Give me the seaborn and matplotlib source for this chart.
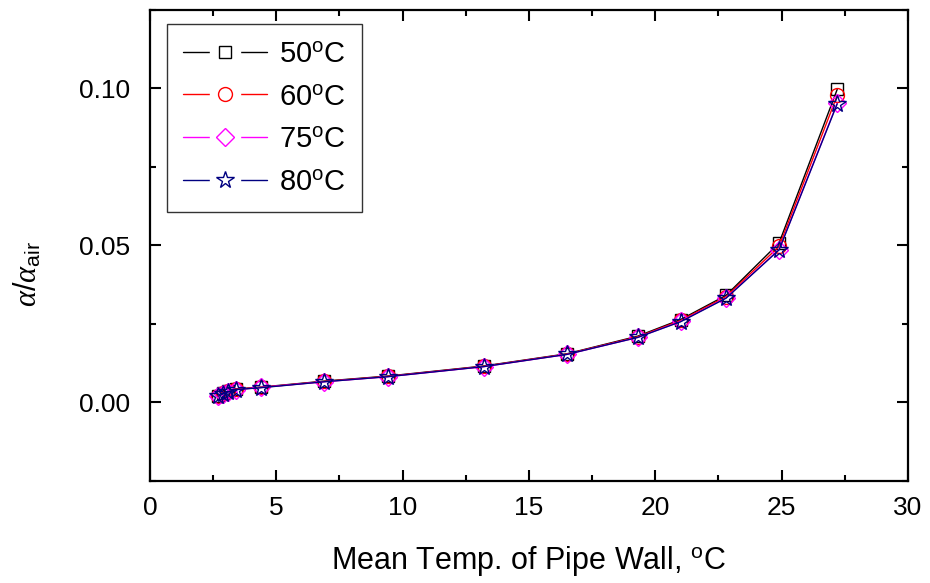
import matplotlib
matplotlib.use("Agg")
import matplotlib.pyplot as plt
import seaborn as sns
import pandas as pd
from matplotlib.ticker import MultipleLocator, FormatStrFormatter
from matplotlib.lines import Line2D

# Data
x_temp = [2.7, 2.9, 3.1, 3.4, 4.4, 6.9, 9.4, 13.2, 16.5, 19.3, 21.0, 22.8, 24.9, 27.2]
y_50 = [0.0022, 0.0030, 0.0036, 0.0043, 0.0049, 0.0068, 0.0084, 0.0116, 0.0155, 0.0211, 0.0264, 0.0341, 0.0508, 0.0997]
y_60 = [0.0021, 0.0029, 0.0035, 0.0042, 0.0048, 0.0067, 0.0083, 0.0115, 0.0154, 0.0209, 0.0261, 0.0337, 0.0497, 0.0978]
y_75 = [0.0020, 0.0028, 0.0034, 0.0041, 0.0048, 0.0066, 0.0082, 0.0114, 0.0153, 0.0207, 0.0258, 0.0333, 0.0487, 0.0953]
y_80 = [0.0020, 0.0028, 0.0034, 0.0041, 0.0047, 0.0066, 0.0082, 0.0114, 0.0153, 0.0207, 0.0257, 0.0332, 0.0486, 0.0951]
series_labels = ["50$^{\\rm o}$C", "60$^{\\rm o}$C", "75$^{\\rm o}$C", "80$^{\\rm o}$C"]
series_values = [y_50, y_60, y_75, y_80]
colors = ["black", "red", "magenta", "navy"]
markers = ["s", "o", "D", "*"]
msizes = [9, 10, 9, 13]

sns.set_style("ticks")
plt.rcParams["font.family"] = ["Liberation Sans", "DejaVu Sans"]
plt.rcParams["mathtext.fontset"] = "custom"
plt.rcParams["mathtext.rm"] = "Liberation Sans"
plt.rcParams["mathtext.it"] = "Liberation Serif:italic"
for k in ["text.color", "axes.labelcolor", "xtick.color", "ytick.color", "axes.edgecolor"]:
    plt.rcParams[k] = "black"

fig = plt.figure(figsize=(9.3, 5.83), dpi=100)
ax = fig.add_axes([0.1613, 0.175, 0.815, 0.808])

for lab, ys, c, m, ms in zip(series_labels, series_values, colors, markers, msizes):
    df = pd.DataFrame({"x": x_temp, "y": ys})
    sns.lineplot(data=df, x="x", y="y", ax=ax, color=c, marker=m, markersize=ms,
                 markerfacecolor="none", markeredgecolor=c, markeredgewidth=1.0,
                 linewidth=1.0, sort=False, legend=False)

ax.set_xlim(0, 30)
ax.set_ylim(-0.025, 0.125)
ax.xaxis.set_major_locator(MultipleLocator(5))
ax.xaxis.set_minor_locator(MultipleLocator(2.5))
ax.yaxis.set_major_locator(MultipleLocator(0.05))
ax.yaxis.set_minor_locator(MultipleLocator(0.025))
ax.yaxis.set_major_formatter(FormatStrFormatter("%.2f"))

ax.tick_params(which="both", direction="in", top=True, right=True, width=1.5)
ax.tick_params(which="major", length=8, labelsize=19)
ax.tick_params(axis="x", which="major", pad=11)
ax.tick_params(axis="y", which="major", pad=14)
ax.tick_params(which="minor", length=4)
for sp in ax.spines.values():
    sp.set_linewidth(1.6)

ax.set_xlabel("Mean Temp. of Pipe Wall, $^{\\rm o}$C", fontsize=22, labelpad=17)
ax.set_ylabel(r"$\mathit{\alpha}/\mathit{\alpha}_{\rm air}$", fontsize=22)
ax.yaxis.set_label_coords(-0.14, 0.44)

# Legend handles with a white gap around each marker
handles = []
for c, m, ms in zip(colors, markers, msizes):
    ln = Line2D([], [], color=c, linewidth=1.0)
    halo = Line2D([], [], linestyle="none", marker="s", markersize=22,
                  markerfacecolor="white", markeredgecolor="white")
    mk = Line2D([], [], linestyle="none", marker=m, markersize=ms,
                markerfacecolor="none", markeredgecolor=c, markeredgewidth=1.0)
    handles.append((ln, halo, mk))

leg = ax.legend(handles, series_labels, loc="upper left", fontsize=21, frameon=True,
                fancybox=False, edgecolor="black", handlelength=2.9, borderpad=0.55,
                labelspacing=0.5, handletextpad=0.4, borderaxespad=0,
                bbox_to_anchor=(0.022, 0.970), numpoints=1)
leg.get_frame().set_linewidth(1.0)

fig.savefig("out.png", dpi=100)
